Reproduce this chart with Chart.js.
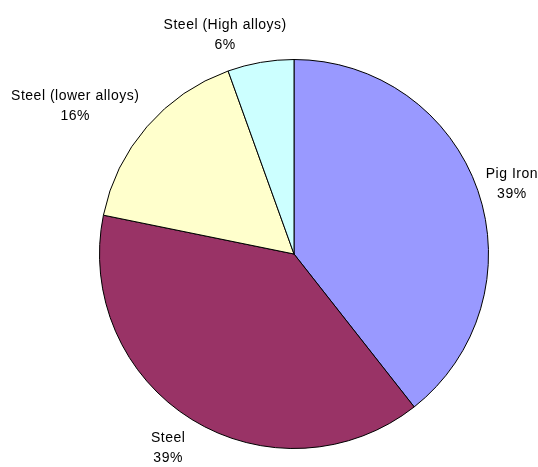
<!DOCTYPE html>
<html>
<head>
<meta charset="utf-8">
<script src="https://cdn.jsdelivr.net/npm/chart.js@4"></script>
<style>
  html, body { margin: 0; padding: 0; background: #fff; }
  #wrap { width: 538px; height: 467px; }
</style>
</head>
<body>
<div id="wrap"><canvas id="c" width="538" height="467"></canvas></div>
<script>
// data (percent of total)
const labels = ['Pig Iron', 'Steel', 'Steel (lower alloys)', 'Steel (High alloys)'];
const values = [39.4, 38.8, 16.3, 5.5];
const shownPct = ['39%', '39%', '16%', '6%'];
const colors = ['#9999FF', '#993366', '#FFFFCC', '#CCFFFF'];
// small hand nudges for label text, like the original's dragged labels
const labelNudge = [[0, 4], [0, 1], [-2, 0], [-20, 4]];

// draw category name + percent outside each slice
const outsideLabels = {
  id: 'outsideLabels',
  afterDatasetsDraw(chart) {
    const ctx = chart.ctx;
    const meta = chart.getDatasetMeta(0);
    ctx.save();
    ctx.font = '14px "Liberation Sans", Arial, sans-serif';
    ctx.letterSpacing = '0.5px';
    ctx.fillStyle = '#000';
    ctx.textAlign = 'center';
    ctx.textBaseline = 'middle';
    meta.data.forEach((arc, i) => {
      const p = arc.getProps(['x', 'y', 'startAngle', 'endAngle', 'outerRadius'], true);
      const mid = (p.startAngle + p.endAngle) / 2;
      const dx = Math.cos(mid), dy = Math.sin(mid);
      const halfW = ctx.measureText(labels[i]).width / 2;
      const halfH = 20;
      let cx = p.x + dx * (p.outerRadius + halfW + 28);
      let cy = p.y + dy * (p.outerRadius + halfH + 12);
      // keep text inside the canvas
      cx = Math.min(Math.max(cx, halfW), chart.width - halfW);
      cx += labelNudge[i][0];
      cy += labelNudge[i][1];
      ctx.fillText(labels[i], cx, cy - 10);
      ctx.fillText(shownPct[i], cx, cy + 10);
    });
    ctx.restore();
  }
};

new Chart(document.getElementById('c'), {
  type: 'pie',
  data: {
    labels: labels,
    datasets: [{
      data: values,
      backgroundColor: colors,
      borderColor: '#000',
      borderWidth: 1
    }]
  },
  options: {
    responsive: false,
    animation: false,
    layout: { padding: { top: 59, bottom: 18, left: 99, right: 49 } },
    plugins: {
      legend: { display: false },
      tooltip: { enabled: false }
    }
  },
  plugins: [outsideLabels]
});
</script>
</body>
</html>
